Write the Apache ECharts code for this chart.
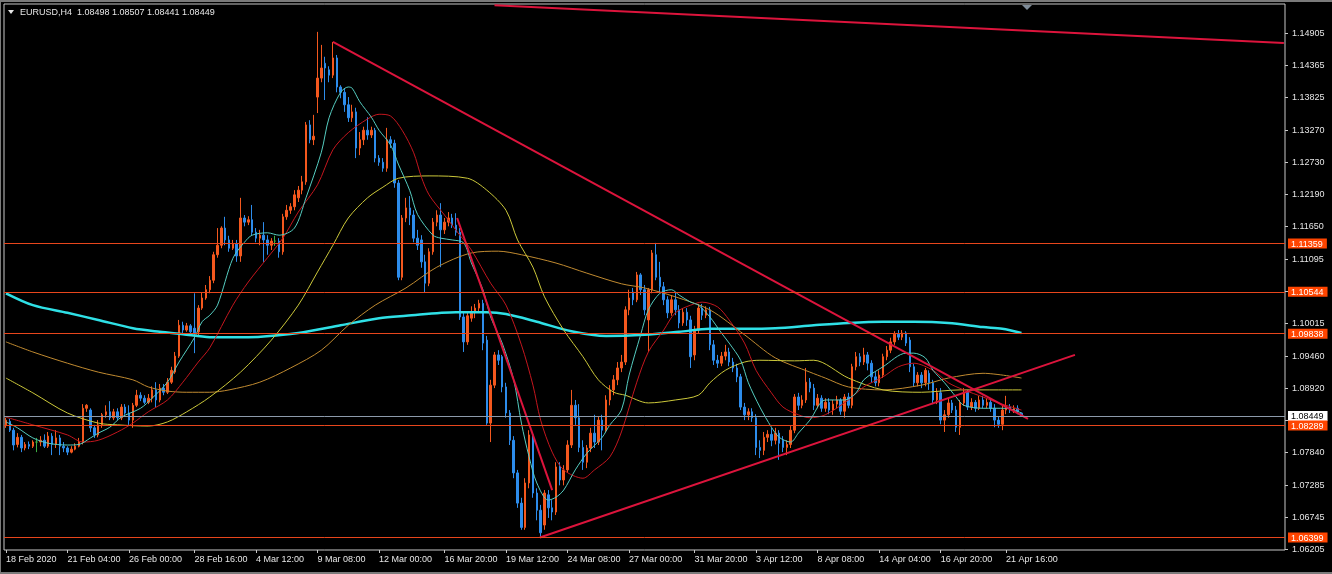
<!DOCTYPE html>
<html><head><meta charset="utf-8">
<script src="https://cdn.jsdelivr.net/npm/echarts@6/dist/echarts.min.js"></script>
<style>html,body{margin:0;padding:0;background:#000;overflow:hidden}#c{width:1332px;height:574px}</style>
</head><body><div id="c"></div>
<script>
const symbolName = 'EURUSD,H4';
// [open, close, low, high]
const candles = [
[1.0830,1.0838,1.0825,1.0842],[1.0836,1.0821,1.0818,1.0840],[1.0821,1.0796,1.0787,1.0825],[1.0797,1.0809,1.0792,1.0816],[1.0809,1.0791,1.0784,1.0813],
[1.0791,1.0797,1.0787,1.0801],[1.0797,1.0794,1.0789,1.0802],[1.0794,1.0801,1.0791,1.0804],[1.0801,1.0801,1.0784,1.0808],[1.0801,1.0804,1.0794,1.0811],
[1.0804,1.0794,1.0791,1.0814],[1.0794,1.0811,1.0791,1.0818],[1.0811,1.0797,1.0779,1.0816],[1.0797,1.0808,1.0791,1.0821],[1.0808,1.0794,1.0779,1.0813],
[1.0794,1.0791,1.0784,1.0801],[1.0791,1.0784,1.0779,1.0794],[1.0784,1.0789,1.0782,1.0794],[1.0789,1.0794,1.0787,1.0799],[1.0794,1.0801,1.0792,1.0808],
[1.0801,1.0858,1.0797,1.0865],[1.0858,1.0863,1.0852,1.0865],[1.0855,1.0825,1.0818,1.0858],[1.0825,1.0813,1.0808,1.0830],[1.0813,1.0830,1.0809,1.0838],
[1.0830,1.0847,1.0825,1.0850],[1.0847,1.0852,1.0842,1.0863],[1.0852,1.0842,1.0838,1.0870],[1.0842,1.0852,1.0838,1.0857],[1.0852,1.0842,1.0838,1.0858],
[1.0842,1.0860,1.0838,1.0865],[1.0860,1.0850,1.0847,1.0865],[1.0850,1.0838,1.0830,1.0863],[1.0838,1.0863,1.0825,1.0867],[1.0863,1.0880,1.0860,1.0889],
[1.0880,1.0875,1.0870,1.0885],[1.0875,1.0868,1.0865,1.0880],[1.0868,1.0875,1.0865,1.0882],[1.0875,1.0889,1.0868,1.0895],[1.0889,1.0872,1.0860,1.0902],
[1.0872,1.0892,1.0868,1.0899],[1.0892,1.0885,1.0880,1.0899],[1.0885,1.0902,1.0882,1.0909],[1.0902,1.0922,1.0899,1.0928],[1.0919,1.0946,1.0916,1.0953],
[1.0946,1.0998,1.0943,1.1007],[1.0998,1.0990,1.0985,1.1004],[1.0990,1.0997,1.0987,1.1002],[1.0997,1.0987,1.0983,1.1000],[1.0993,1.0985,1.0951,1.1052],
[1.0987,1.1027,1.0980,1.1032],[1.1027,1.1044,1.1024,1.1054],[1.1044,1.1058,1.1041,1.1066],[1.1058,1.1074,1.1052,1.1081],[1.1074,1.1117,1.1069,1.1122],
[1.1117,1.1133,1.1112,1.1162],[1.1133,1.1162,1.1128,1.1165],[1.1162,1.1142,1.1133,1.1181],[1.1142,1.1128,1.1122,1.1149],[1.1128,1.1135,1.1125,1.1142],
[1.1135,1.1115,1.1105,1.1142],[1.1115,1.1179,1.1105,1.1213],[1.1179,1.1172,1.1165,1.1184],[1.1172,1.1176,1.1167,1.1182],[1.1176,1.1155,1.1150,1.1201],
[1.1155,1.1145,1.1138,1.1162],[1.1145,1.1150,1.1133,1.1159],[1.1150,1.1142,1.1105,1.1172],[1.1142,1.1133,1.1117,1.1150],[1.1133,1.1140,1.1125,1.1145],
[1.1140,1.1140,1.1132,1.1149],[1.1140,1.1122,1.1112,1.1145],[1.1122,1.1181,1.1117,1.1186],[1.1181,1.1192,1.1176,1.1201],[1.1192,1.1198,1.1186,1.1204],
[1.1198,1.1218,1.1192,1.1226],[1.1213,1.1226,1.1206,1.1233],[1.1226,1.1240,1.1219,1.1250],[1.1240,1.1336,1.1235,1.1341],[1.1336,1.1311,1.1305,1.1344],
[1.1311,1.1317,1.1302,1.1353],[1.1383,1.1415,1.1356,1.1493],[1.1415,1.1432,1.1408,1.1471],[1.1440,1.1432,1.1378,1.1451],[1.1429,1.1420,1.1408,1.1435],
[1.1420,1.1449,1.1415,1.1476],[1.1449,1.1400,1.1391,1.1454],[1.1400,1.1391,1.1381,1.1403],[1.1391,1.1370,1.1358,1.1398],[1.1370,1.1348,1.1341,1.1383],
[1.1348,1.1358,1.1341,1.1370],[1.1358,1.1297,1.1280,1.1365],[1.1297,1.1311,1.1285,1.1324],[1.1311,1.1327,1.1302,1.1333],[1.1327,1.1319,1.1311,1.1349],
[1.1319,1.1327,1.1314,1.1333],[1.1327,1.1280,1.1273,1.1331],[1.1280,1.1273,1.1267,1.1285],[1.1273,1.1263,1.1257,1.1280],[1.1263,1.1311,1.1257,1.1331],
[1.1311,1.1305,1.1297,1.1317],[1.1305,1.1238,1.1230,1.1311],[1.1238,1.1079,1.1074,1.1243],[1.1079,1.1179,1.1074,1.1184],[1.1179,1.1196,1.1172,1.1213],
[1.1196,1.1184,1.1167,1.1216],[1.1184,1.1145,1.1138,1.1192],[1.1145,1.1133,1.1125,1.1159],[1.1142,1.1105,1.1095,1.1150],[1.1105,1.1069,1.1054,1.1117],
[1.1069,1.1122,1.1064,1.1128],[1.1122,1.1172,1.1117,1.1179],[1.1172,1.1184,1.1165,1.1192],[1.1184,1.1159,1.1096,1.1204],[1.1159,1.1172,1.1152,1.1179],
[1.1172,1.1179,1.1165,1.1189],[1.1179,1.1167,1.1162,1.1186],[1.1167,1.1155,1.1149,1.1187],[1.1155,1.1012,1.1007,1.1162],[1.1012,1.0970,1.0953,1.1020],
[1.0970,1.1014,1.0965,1.1020],[1.1010,1.1020,1.1004,1.1030],[1.1020,1.1027,1.1010,1.1034],[1.1027,1.1035,1.1020,1.1041],[1.1035,1.0968,1.0956,1.1041],
[1.0973,1.0833,1.0830,1.0980],[1.0833,1.0897,1.0801,1.0906],[1.0897,1.0948,1.0892,1.0953],[1.0948,1.0939,1.0931,1.0956],[1.0945,1.0894,1.0885,1.0948],
[1.0894,1.0850,1.0842,1.0901],[1.0850,1.0804,1.0796,1.0855],[1.0804,1.0749,1.0740,1.0811],[1.0749,1.0698,1.0690,1.0754],[1.0698,1.0657,1.0653,1.0707],
[1.0657,1.0732,1.0653,1.0740],[1.0732,1.0813,1.0723,1.0821],[1.0813,1.0715,1.0707,1.0818],[1.0715,1.0686,1.0669,1.0723],[1.0686,1.0648,1.06399,1.0695],
[1.0661,1.0715,1.0653,1.0720],[1.0712,1.0690,1.0673,1.0720],[1.0690,1.0683,1.0669,1.0703],[1.0683,1.0759,1.0678,1.0767],[1.0759,1.0737,1.0728,1.0767],
[1.0737,1.0754,1.0728,1.0762],[1.0754,1.0796,1.0749,1.0804],[1.0796,1.0863,1.0791,1.0889],[1.0863,1.0842,1.0830,1.0872],[1.0842,1.0792,1.0784,1.0865],
[1.0792,1.0767,1.0754,1.0804],[1.0767,1.0791,1.0757,1.0796],[1.0791,1.0816,1.0784,1.0825],[1.0816,1.0801,1.0791,1.0847],[1.0801,1.0838,1.0796,1.0845],
[1.0838,1.0821,1.0787,1.0847],[1.0821,1.0872,1.0818,1.0880],[1.0872,1.0889,1.0863,1.0897],[1.0889,1.0906,1.0880,1.0914],[1.0906,1.0926,1.0897,1.0936],
[1.0926,1.0936,1.0919,1.0948],[1.0936,1.1024,1.0931,1.1030],[1.1024,1.1044,1.1015,1.1058],[1.1054,1.1041,1.1032,1.1061],[1.1041,1.1083,1.1037,1.1088],
[1.1083,1.1058,1.1049,1.1086],[1.1058,1.1024,1.1015,1.1066],[1.1007,1.1058,1.0953,1.1061],[1.1058,1.1120,1.1052,1.1125],[1.1117,1.1079,1.1074,1.1137],
[1.1079,1.1063,1.1054,1.1105],[1.1063,1.1041,1.1032,1.1071],[1.1041,1.1019,1.1010,1.1047],[1.1019,1.1041,1.1014,1.1049],[1.1041,1.1024,1.1015,1.1054],
[1.1024,1.1002,1.0993,1.1032],[1.1002,1.1020,1.0997,1.1027],[1.1020,1.1007,1.0997,1.1027],[1.1007,1.0945,1.0926,1.1014],[1.0948,1.0990,1.0939,1.0997],
[1.0990,1.1027,1.0985,1.1034],[1.1027,1.1015,1.1007,1.1034],[1.1015,1.1024,1.1010,1.1030],[1.1024,1.0965,1.0956,1.1029],[1.0965,1.0939,1.0931,1.0973],
[1.0939,1.0934,1.0926,1.0948],[1.0934,1.0946,1.0929,1.0953],[1.0946,1.0953,1.0939,1.0965],[1.0953,1.0936,1.0929,1.0960],[1.0936,1.0926,1.0919,1.0943],
[1.0926,1.0911,1.0902,1.0933],[1.0911,1.0860,1.0855,1.0916],[1.0860,1.0847,1.0838,1.0867],[1.0847,1.0852,1.0838,1.0858],[1.0852,1.0842,1.0835,1.0858],
[1.0842,1.0792,1.0779,1.0848],[1.0792,1.0787,1.0774,1.0804],[1.0787,1.0809,1.0779,1.0818],[1.0809,1.0814,1.0801,1.0821],[1.0814,1.0804,1.0794,1.0825],
[1.0804,1.0816,1.0797,1.0825],[1.0816,1.0799,1.0771,1.0821],[1.0804,1.0792,1.0784,1.0811],[1.0792,1.0797,1.0779,1.0804],[1.0797,1.0821,1.0791,1.0828],
[1.0821,1.0877,1.0816,1.0882],[1.0877,1.0863,1.0855,1.0884],[1.0863,1.0872,1.0858,1.0880],[1.0872,1.0902,1.0867,1.0926],[1.0902,1.0892,1.0885,1.0909],
[1.0892,1.0863,1.0855,1.0899],[1.0863,1.0875,1.0858,1.0882],[1.0875,1.0858,1.0852,1.0880],[1.0858,1.0868,1.0852,1.0875],[1.0868,1.0855,1.0848,1.0875],
[1.0855,1.0865,1.0847,1.0872],[1.0865,1.0872,1.0858,1.0879],[1.0872,1.0853,1.0847,1.0875],[1.0853,1.0877,1.0842,1.0882],[1.0877,1.0863,1.0858,1.0884],
[1.0863,1.0928,1.0858,1.0933],[1.0928,1.0945,1.0922,1.0953],[1.0945,1.0936,1.0929,1.0951],[1.0936,1.0948,1.0931,1.0960],[1.0948,1.0934,1.0922,1.0953],
[1.0934,1.0911,1.0901,1.0939],[1.0911,1.0901,1.0895,1.0919],[1.0901,1.0914,1.0895,1.0922],[1.0914,1.0945,1.0909,1.0950],[1.0945,1.0956,1.0939,1.0963],
[1.0956,1.0970,1.0951,1.0977],[1.0970,1.0983,1.0965,1.0988],[1.0983,1.0978,1.0973,1.0990],[1.0978,1.0985,1.0973,1.0990],[1.0985,1.0968,1.0963,1.0988],
[1.0973,1.0928,1.0919,1.0978],[1.0928,1.0901,1.0895,1.0933],[1.0901,1.0914,1.0895,1.0919],[1.0914,1.0901,1.0892,1.0919],[1.0901,1.0922,1.0895,1.0926],
[1.0917,1.0901,1.0889,1.0922],[1.0901,1.0872,1.0865,1.0906],[1.0872,1.0884,1.0865,1.0892],[1.0884,1.0838,1.0831,1.0892],[1.0838,1.0847,1.0818,1.0855],
[1.0847,1.0867,1.0842,1.0875],[1.0867,1.0855,1.0850,1.0872],[1.0855,1.0826,1.0818,1.0862],[1.0826,1.0867,1.0813,1.0872],[1.0867,1.0885,1.0862,1.0892],
[1.0885,1.0860,1.0855,1.0889],[1.0860,1.0868,1.0855,1.0875],[1.0868,1.0858,1.0852,1.0872],[1.0858,1.0872,1.0855,1.0879],[1.0872,1.0863,1.0858,1.0879],
[1.0863,1.0868,1.0858,1.0875],[1.0868,1.0858,1.0852,1.0874],[1.0858,1.0838,1.0826,1.0865],[1.0838,1.0831,1.0825,1.0845],[1.0831,1.0855,1.0821,1.0862],
[1.0855,1.0860,1.0848,1.0879],[1.0860,1.0855,1.0850,1.0865],[1.0855,1.0858,1.0850,1.0863],[1.0858,1.0852,1.0848,1.0863],[1.08498,1.08449,1.08441,1.08507]
];
const dojiBars = [8, 70];

// moving averages: [bar, price]
const maFast = [[0,1.0835],[3,1.0825],[7,1.0808],[11,1.0799],[16,1.0796],[19,1.0797],[22,1.0808],[24,1.0816],[27,1.0826],[30,1.0843],[35,1.0858],[38,1.0875],[42,1.0902],[45,1.0936],[49,1.0977],[51,1.1004],[53,1.1015],[55,1.1032],[59,1.1111],[62,1.1138],[64,1.1150],[68,1.1154],[71,1.1150],[75,1.1162],[78,1.1213],[82,1.1290],[84,1.1348],[87,1.1391],[89,1.1400],[90,1.1398],[92,1.1375],[95,1.1349],[97,1.1327],[100,1.1302],[102,1.1270],[105,1.1225],[107,1.1185],[111,1.1150],[113,1.1145],[116,1.1142],[119,1.1137],[121,1.1103],[124,1.1058],[126,1.1012],[129,1.0968],[132,1.0906],[134,1.0833],[136,1.0776],[138,1.0732],[141,1.0703],[143,1.0708],[145,1.0720],[148,1.0754],[151,1.0782],[155,1.0809],[157,1.0830],[160,1.0855],[162,1.0914],[165,1.0982],[167,1.1024],[170,1.1052],[173,1.1058],[175,1.1049],[178,1.1037],[180,1.1032],[183,1.1012],[186,1.0985],[188,1.0968],[191,1.0939],[193,1.0901],[196,1.0860],[199,1.0826],[201,1.0809],[204,1.0801],[206,1.0816],[209,1.0838],[213,1.0872],[218,1.0872],[221,1.0884],[223,1.0906],[228,1.0928],[234,1.0951],[236,1.0951],[239,1.0943],[241,1.0922],[244,1.0901],[247,1.0877],[249,1.0863],[254,1.0858],[260,1.0858],[264,1.0850]];
const maMid = [[0,1.0843],[7,1.0830],[16,1.0813],[20,1.0801],[24,1.0804],[29,1.0818],[33,1.0833],[37,1.0852],[42,1.0872],[46,1.0902],[50,1.0936],[53,1.0960],[59,1.1032],[63,1.1071],[68,1.1112],[72,1.1145],[76,1.1189],[81,1.1235],[85,1.1294],[89,1.1323],[94,1.1346],[97,1.1354],[100,1.1351],[103,1.1327],[106,1.1289],[108,1.1248],[110,1.1218],[114,1.1184],[118,1.1150],[121,1.1125],[126,1.1069],[130,1.1032],[134,1.0965],[137,1.0897],[139,1.0838],[142,1.0784],[145,1.0754],[150,1.0740],[153,1.0754],[157,1.0776],[160,1.0818],[164,1.0902],[167,1.0953],[171,1.0990],[174,1.1019],[178,1.1032],[181,1.1037],[185,1.1029],[188,1.1007],[192,1.0968],[195,1.0922],[199,1.0884],[202,1.0860],[206,1.0847],[209,1.0842],[213,1.0847],[219,1.0872],[223,1.0894],[228,1.0911],[232,1.0928],[236,1.0934],[241,1.0922],[245,1.0901],[249,1.0889],[254,1.0877],[258,1.0867],[264,1.0855]];
const ma50 = [[0,1.0909],[7,1.0884],[16,1.0850],[24,1.0833],[29,1.0830],[37,1.0828],[42,1.0835],[47,1.0852],[53,1.0877],[61,1.0919],[69,1.0973],[76,1.1032],[81,1.1088],[85,1.1133],[89,1.1179],[94,1.1213],[98,1.1231],[102,1.1246],[110,1.1250],[120,1.1246],[125,1.1226],[130,1.1192],[133,1.1142],[137,1.1096],[140,1.1046],[145,1.0990],[150,1.0945],[154,1.0906],[158,1.0885],[161,1.0880],[167,1.0867],[174,1.0872],[180,1.0880],[183,1.0901],[187,1.0922],[192,1.0936],[196,1.0939],[205,1.0938],[210,1.0939],[219,1.0909],[228,1.0889],[238,1.0885],[248,1.0889],[258,1.0889],[264,1.0889]];
const ma100 = [[0,1.0970],[7,1.0953],[16,1.0934],[24,1.0919],[33,1.0906],[37,1.0894],[42,1.0887],[47,1.0885],[53,1.0885],[58,1.0889],[66,1.0902],[74,1.0926],[82,1.0956],[89,1.0998],[96,1.1032],[104,1.1061],[112,1.1096],[121,1.1120],[128,1.1123],[134,1.1117],[143,1.1103],[151,1.1086],[160,1.1068],[166,1.1061],[174,1.1046],[183,1.1024],[192,1.0982],[200,1.0943],[209,1.0919],[213,1.0909],[219,1.0894],[228,1.0889],[238,1.0897],[245,1.0909],[254,1.0917],[264,1.0909]];
const ma200 = [[0,1.1052],[7,1.1032],[16,1.1019],[24,1.1007],[33,1.0993],[40,1.0987],[46,1.0983],[53,1.0978],[63,1.0978],[76,1.0985],[87,1.0998],[97,1.1010],[104,1.1014],[117,1.1020],[125,1.1020],[130,1.1017],[138,1.1004],[147,1.0988],[156,1.0980],[166,1.0982],[175,1.0987],[183,1.0992],[192,1.0992],[200,1.0993],[210,1.0998],[219,1.1002],[228,1.1004],[236,1.1004],[245,1.1002],[254,1.0995],[259,1.0992],[264,1.0985]];

const trendLines = [
  [[127,1.1538],[332.2,1.1474]],
  [[85,1.1476],[265.7,1.0840]],
  [[138.8,1.06399],[277.9,1.0948]],
  [[117.3,1.1179],[142,1.0720]]
];
const levels = [1.11359, 1.10544, 1.09838, 1.08289, 1.06399];
const bid = 1.08449;
const yTicks = [1.14905,1.14365,1.13825,1.13270,1.12730,1.12190,1.11650,1.11095,1.10555,1.10015,1.09460,1.08920,1.08380,1.07840,1.07285,1.06745,1.06205];
const xTickBars = [0,16,32,49,65,81,97,114,130,146,162,179,195,211,227,243,260];
const xTickLabels = ['18 Feb 2020','21 Feb 04:00','26 Feb 00:00','28 Feb 16:00','4 Mar 12:00','9 Mar 08:00','12 Mar 00:00','16 Mar 20:00','19 Mar 12:00','24 Mar 08:00','27 Mar 00:00','31 Mar 20:00','3 Apr 12:00','8 Apr 08:00','14 Apr 04:00','16 Apr 20:00','21 Apr 16:00'];
const slotCount = 333;
const yMin = 1.06189, yMax = 1.15400;

const UP = '#F4581E', DOWN = '#2D8CEB', DOJI = '#3CB043';
const LEVEL = '#E8461C', BIDLINE = '#8C9AAA';
const FONT = '"Liberation Sans", Arial, sans-serif';
const chart = echarts.init(document.getElementById('c'), null, {renderer: 'canvas'});
const last = candles[candles.length - 1];
const header = symbolName + '  ' + last[0].toFixed(5) + ' ' + last[3].toFixed(5) + ' ' + last[2].toFixed(5) + ' ' + last[1].toFixed(5);

const candleData = candles.map((c, i) => dojiBars.includes(i)
  ? {value: c, itemStyle: {color: DOJI, color0: DOJI, borderColor: DOJI, borderColor0: DOJI, borderColorDoji: DOJI}}
  : c);

function maSeries(data, color, width, z) {
  return {type: 'line', xAxisIndex: 1, yAxisIndex: 0, data, showSymbol: false, symbol: 'none', smooth: 0.3,
    color, lineStyle: {color, width}, z, silent: true, clip: true};
}
const series = [];
series.push({type: 'candlestick', xAxisIndex: 0, yAxisIndex: 0, data: candleData, barWidth: 2, z: 2, silent: true,
  itemStyle: {color: UP, color0: DOWN, borderColor: UP, borderColor0: DOWN, borderWidth: 1}});
series.push(maSeries(ma200, '#2FE0E6', 2.5, 3));
series.push(maSeries(ma100, '#C08A30', 1, 3));
series.push(maSeries(ma50, '#CCC83A', 1, 3));
series.push(maSeries(maMid, '#C4161E', 1, 3));
series.push(maSeries(maFast, '#55CCC0', 1, 3));
trendLines.forEach(t => series.push({type: 'line', xAxisIndex: 1, yAxisIndex: 0, data: t, symbol: 'none',
  color: '#DC143C', lineStyle: {color: '#DC143C', width: 2}, z: 4, silent: true, clip: true}));

const tagValues = [bid, ...levels];
const lineValues = [...tagValues].sort((a, b) => a - b);
const lineColors = lineValues.map(v => v === bid ? BIDLINE : LEVEL);

chart.setOption({
  backgroundColor: '#000',
  animation: false,
  grid: {left: 4, right: 47, top: 4, bottom: 24, show: true, borderColor: '#C8C8C8', borderWidth: 1,
    backgroundColor: 'transparent', containLabel: false, outerBoundsMode: 'none'},
  xAxis: [
    {type: 'category', data: Array.from({length: slotCount}, (_, i) => String(i)), show: false, boundaryGap: true,
      axisLine: {onZero: false}},
    {type: 'value', min: -0.5, max: slotCount - 0.5, position: 'bottom', splitLine: {show: false},
      axisLine: {show: false, onZero: false},
      axisTick: {show: true, customValues: xTickBars, length: 3, lineStyle: {color: '#C8C8C8'}},
      axisLabel: {customValues: xTickBars, align: 'left', color: '#E6E6E6', fontSize: 9, fontFamily: FONT, margin: 5,
        formatter: v => { const k = xTickBars.indexOf(Math.round(v)); return k >= 0 ? xTickLabels[k] : ''; }}}
  ],
  yAxis: [
    {type: 'value', min: yMin, max: yMax, position: 'right', splitLine: {show: false},
      axisLine: {show: false, onZero: false},
      axisTick: {show: true, customValues: yTicks, length: 3, lineStyle: {color: '#C8C8C8'}},
      axisLabel: {customValues: yTicks, formatter: v => v.toFixed(5), color: '#E6E6E6', fontSize: 9, fontFamily: FONT, margin: 7}},
    {type: 'value', min: yMin, max: yMax, position: 'right', z: 6,
      splitLine: {show: true, lineStyle: {color: lineColors, width: 1, type: 'solid'}},
      axisLine: {show: false, onZero: false}, axisTick: {show: false, customValues: lineValues},
      axisLabel: {customValues: tagValues, margin: 3,
        formatter: v => (Math.abs(v - bid) < 1e-7 ? '{w|' : '{o|') + v.toFixed(5) + '}',
        rich: {
          o: {backgroundColor: '#FF4500', color: '#FFFFFF', padding: [1, 4, 0, 3], lineHeight: 9, fontSize: 9, fontFamily: FONT},
          w: {backgroundColor: '#FFFFFF', color: '#000000', padding: [1, 4, 0, 3], lineHeight: 9, fontSize: 9, fontFamily: FONT}
        }}}
  ],
  graphic: [
    {type: 'rect', shape: {x: 0, y: 0, width: 1332, height: 2}, style: {fill: '#7A7A7A'}, silent: true},
    {type: 'rect', shape: {x: 0, y: 0, width: 1, height: 574}, style: {fill: '#7A7A7A'}, silent: true},
    {type: 'rect', shape: {x: 0, y: 572, width: 1332, height: 2}, style: {fill: '#7A7A7A'}, silent: true},
    {type: 'polygon', shape: {points: [[8, 10], [14, 10], [11, 14]]}, style: {fill: '#E6E6E6'}, silent: true},
    {type: 'polygon', shape: {points: [[1022, 5], [1032, 5], [1027, 10]]}, style: {fill: '#7F8C99'}, silent: true, z: 10},
    {type: 'text', x: 20, y: 13, style: {text: header, fill: '#E6E6E6', font: '9px ' + FONT, verticalAlign: 'middle'}, silent: true, z: 10}
  ],
  series
});
</script>
</body></html>
